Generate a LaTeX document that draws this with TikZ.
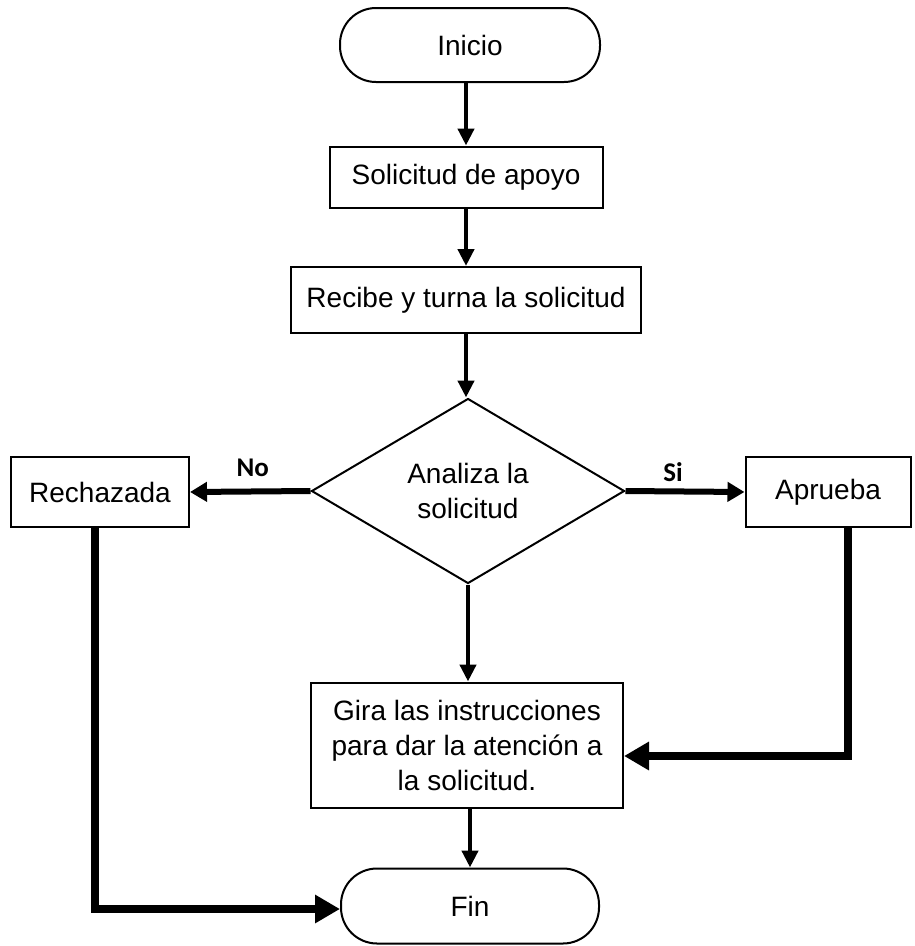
\documentclass[tikz,border=0pt]{standalone}
\usepackage{fontspec}
\setmainfont{Liberation Sans}
\newfontfamily\lblfont{Carlito}
\usetikzlibrary{arrows.meta,shapes.geometric}
\begin{document}
\begin{tikzpicture}[x=1pt,y=-1pt,
  txt/.style={font=\fontsize{28}{35}\selectfont},
  box/.style={draw, line width=2pt, rectangle, inner sep=0pt, align=center, txt},
  term/.style={box, rounded corners=36pt},
  dec/.style={draw, line width=2pt, diamond, inner sep=0pt, align=center, txt},
  flow/.style={line width=4.5pt, -{Triangle[length=17pt,width=16pt]}},
  side/.style={line width=6pt, -{Triangle[length=17pt,width=19pt]}},
  loopline/.style={line width=8pt, -{Triangle[length=25pt,width=27pt]}},
  lbl/.style={font=\lblfont\bfseries\fontsize{27}{30}\selectfont}
]
\useasboundingbox (0,0) rectangle (914,946);
\fill[white] (0,0) rectangle (914,946);

\node[term, minimum width=260pt, minimum height=74pt] (inicio) at (470,45) {Inicio};
\node[box, minimum width=273pt, minimum height=61pt] (sol) at (466,177) {Solicitud de apoyo};
\node[box, minimum width=350pt, minimum height=66pt] (rec) at (466,300) {Recibe y turna la solicitud};
\node[dec, minimum width=313pt, minimum height=185pt] (ana) at (468,491) {Analiza la\\solicitud};
\node[box, minimum width=178pt, minimum height=70pt] (rech) at (100,492) {Rechazada};
\node[box, minimum width=165pt, minimum height=70pt] (apr) at (828,492) {Aprueba};
\node[box, minimum width=312pt, minimum height=125pt] (gira) at (467,745) {Gira las instrucciones\\para dar la atención a\\la solicitud.};
\node[term, minimum width=258pt, minimum height=75pt] (fin) at (470,906) {Fin};

\draw[flow] (inicio.south -| sol.north) -- (sol.north);
\draw[flow] (sol.south) -- (rec.north);
\draw[flow] (rec.south) -- (rec.south |- ana.north);
\draw[side] (ana.west) -- node[lbl, above=8pt, pos=0.48] (no) {No} (rech.east);
\draw[side] (ana.east) -- node[lbl, above=3pt, pos=0.4] (si) {Si} (apr.east -| apr.west);
\draw[flow] (ana.south) -- (gira.north -| ana.south);
\draw[loopline] ([xshift=20pt]apr.south) |- ([yshift=-11pt]gira.east);
\draw[loopline] ([xshift=-5pt]rech.south) |- ([yshift=-3pt]fin.west);
\draw[flow] (gira.south -| fin.north) -- (fin.north);
\end{tikzpicture}
\end{document}
